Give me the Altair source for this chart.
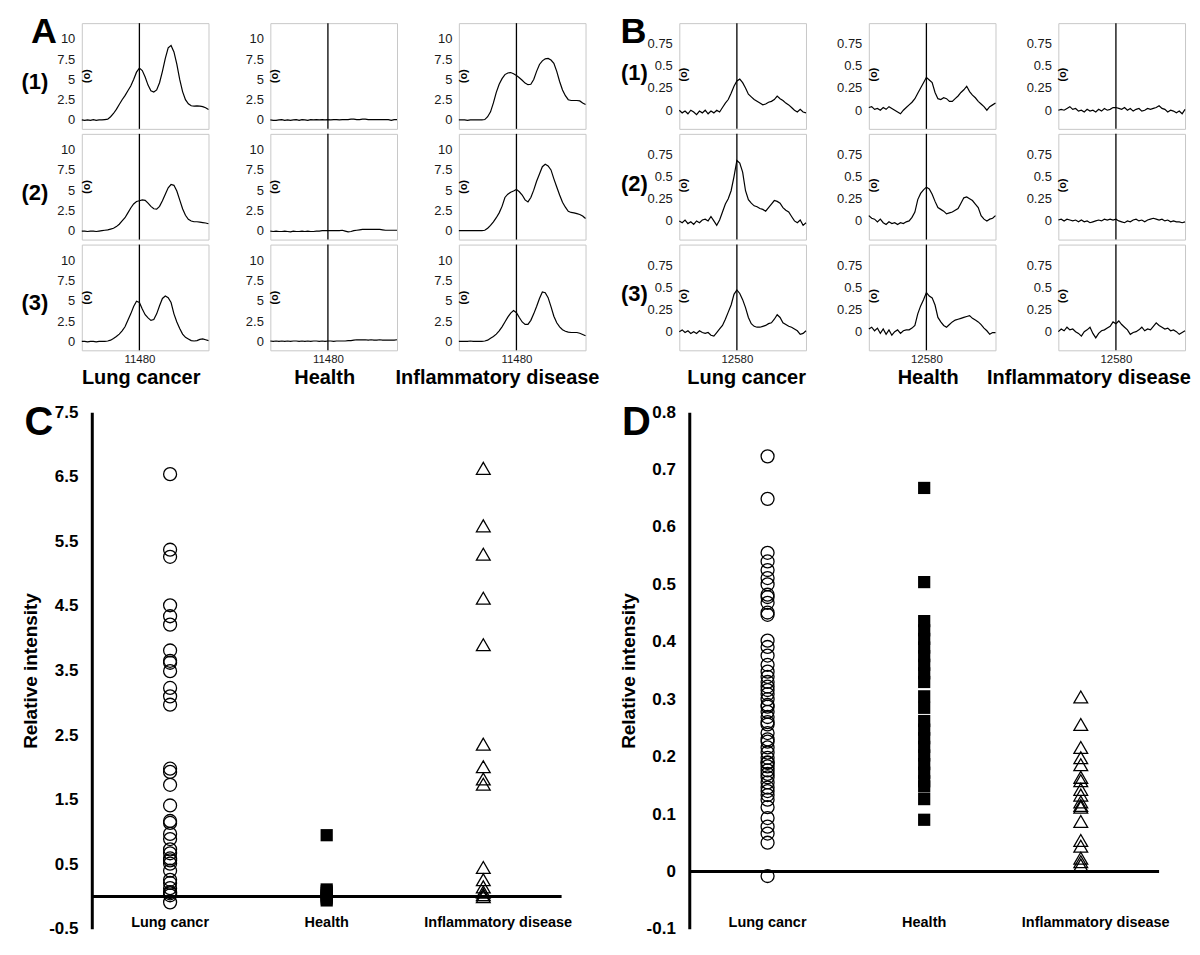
import altair as alt
import pandas as pd

FONT = "Liberation Sans"

# ---------------- Panel A / B spectra (m/z grid and relative intensities) ----------------
MASS_A = [11380, 11385, 11390, 11395, 11400, 11405, 11410, 11415, 11420, 11425,
          11430, 11435, 11440, 11445, 11450, 11455, 11460, 11465, 11470, 11475,
          11480, 11485, 11490, 11495, 11500, 11505, 11510, 11515, 11520, 11525,
          11530, 11535, 11540, 11545, 11550, 11555, 11560, 11565, 11570, 11575,
          11580, 11585, 11590, 11595, 11600]
MASS_B = [12480, 12485, 12490, 12495, 12500, 12505, 12510, 12515, 12520, 12525,
          12530, 12535, 12540, 12545, 12550, 12555, 12560, 12565, 12570, 12575,
          12580, 12585, 12590, 12595, 12600, 12605, 12610, 12615, 12620, 12625,
          12630, 12635, 12640, 12645, 12650, 12655, 12660, 12665, 12670, 12675,
          12680, 12685, 12690, 12695, 12700]

A_LUNG_1 = [0, -0.05, 0, -0.05, 0.05, -0.05, 0, 0, 0.05, 0.1,
            0.4, 0.8, 1.3, 1.9, 2.5, 3.0, 3.6, 4.2, 5.0, 5.9,
            6.4, 6.1, 5.3, 4.3, 3.6, 3.45, 3.7, 4.6, 6.0, 7.6,
            8.9, 9.2, 8.4, 6.9, 5.0, 3.5, 2.5, 2.0, 1.75, 1.7,
            1.75, 1.7, 1.65, 1.5, 1.3]
A_LUNG_2 = [-0.05, -0.05, -0.1, -0.05, -0.05, -0.1, -0.05, 0, 0.05, 0.1,
            0.2, 0.3, 0.5, 0.8, 1.2, 1.6, 2.2, 2.8, 3.3, 3.6,
            3.7, 3.8, 3.75, 3.4, 3.0, 2.7, 2.65, 3.0, 3.7, 4.5,
            5.3, 5.7, 5.6, 4.9, 3.8, 2.7, 1.9, 1.4, 1.2, 1.1,
            1.1, 1.05, 1.0, 0.95, 0.85]
A_LUNG_3 = [0, 0, -0.05, 0, 0, -0.05, 0, 0, 0, 0.05,
            0.15, 0.35, 0.6, 0.9, 1.3, 1.8, 2.6, 3.4, 4.3, 4.95,
            4.8, 4.0, 3.3, 2.9, 2.6, 2.7, 3.4, 4.4, 5.3, 5.6,
            5.4, 4.8, 3.4, 2.4, 1.6, 0.9, 0.5, 0.3, 0.1, 0.05,
            0.1, 0.25, 0.3, 0.2, 0.1]
A_HEALTH_1 = [0, -0.05, -0.05, 0, 0.05, -0.05, 0, -0.05, 0, 0.05,
              -0.05, 0.05, 0, -0.05, 0.05, 0, 0.05, 0, 0.05, 0,
              0.05, 0, 0.05, 0.05, 0, 0.05, 0.05, 0.05, 0.1, 0.1,
              0.05, 0.05, 0.1, 0.1, 0.05, 0.05, 0.05, 0.05, 0.05, 0.05,
              0.05, 0.05, -0.05, 0.05, 0.05]
A_HEALTH_2 = [-0.05, -0.1, -0.05, -0.1, -0.1, -0.05, -0.1, -0.15, -0.05, -0.1,
              -0.1, -0.05, -0.1, -0.05, -0.1, -0.1, -0.05, -0.05, 0, 0,
              0, 0, 0, 0, 0, 0.05, -0.05, -0.15, -0.1, 0,
              0.05, 0.1, 0.15, 0.15, 0.15, 0.15, 0.15, 0.15, 0.15, 0.1,
              0.05, 0.05, 0.05, 0.05, 0.05]
A_HEALTH_3 = [0.05, 0, 0.05, 0, 0.05, 0, 0.05, 0, 0.05, 0.05,
              0, 0.05, 0, 0.05, 0, 0.05, 0.05, 0, 0.05, 0,
              0.05, 0.05, 0, 0.05, 0.05, 0.05, 0.05, 0.1, 0.1, 0.15,
              0.2, 0.2, 0.2, 0.2, 0.15, 0.2, 0.15, 0.15, 0.2, 0.15,
              0.15, 0.15, 0.15, 0.15, 0.2]
A_INFL_1 = [0, 0, 0, -0.05, 0, 0, 0, 0, 0, 0.05,
            0.4, 1.0, 2.1, 3.4, 4.4, 5.1, 5.6, 5.8, 5.85, 5.7,
            5.5, 5.2, 4.9, 4.55, 4.35, 4.4, 5.0, 6.0, 6.85, 7.3,
            7.55, 7.6, 7.4, 7.0, 6.0, 4.75, 3.7, 3.0, 2.5, 2.4,
            2.4, 2.4, 2.35, 2.1, 1.9]
A_INFL_2 = [0, 0, 0, 0, 0, 0, 0, 0, 0, 0.05,
            0.3, 0.65, 1.1, 1.6, 2.2, 3.0, 4.1, 4.5, 4.75, 4.9,
            5.1, 4.8, 4.4, 3.8, 3.55, 4.1, 5.0, 6.1, 7.0, 7.9,
            8.2, 8.0, 7.5, 6.4, 5.4, 4.4, 3.5, 2.9, 2.4, 2.25,
            2.2, 2.1, 2.0, 1.8, 1.5]
A_INFL_3 = [0, 0, 0, 0, 0.05, 0, 0, 0, 0, 0.05,
            0.15, 0.4, 0.6, 0.9, 1.3, 1.8, 2.4, 3.0, 3.5, 3.8,
            3.55, 2.95, 2.4, 2.1, 2.1, 2.6, 3.4, 4.3, 5.3, 6.1,
            6.0, 5.4, 4.3, 3.1, 2.3, 1.8, 1.45, 1.25, 1.15, 1.1,
            1.1, 1.1, 1.0, 0.85, 0.7]

B_LUNG_1 = [0.0, -0.03, -0.01, -0.04, 0.0, -0.02, -0.05, -0.01, -0.03, 0.0,
            -0.04, -0.01, -0.03, 0.0, -0.02, 0.03, 0.08, 0.12, 0.19, 0.27,
            0.33, 0.35, 0.31, 0.25, 0.18, 0.15, 0.12, 0.1, 0.08, 0.06,
            0.07, 0.09, 0.1, 0.12, 0.16, 0.13, 0.11, 0.08, 0.06, 0.03,
            0.0, -0.02, 0.01, -0.02, -0.03]
B_LUNG_2 = [0.0, -0.02, 0.01, -0.03, -0.01, -0.04, 0.0, -0.02, 0.01, 0.02,
            0.0, 0.05, 0.0, -0.05, 0.01, 0.1, 0.19, 0.25, 0.34, 0.5,
            0.68, 0.65, 0.55, 0.34, 0.24, 0.2, 0.17, 0.16, 0.14, 0.13,
            0.11, 0.15, 0.19, 0.23, 0.22, 0.2, 0.15, 0.12, 0.1, 0.05,
            0.0, -0.02, 0.01, -0.05, -0.02]
B_LUNG_3 = [0.0, 0.02, -0.01, 0.01, -0.02, 0.0, -0.02, 0.01, -0.01, -0.02,
            -0.01, -0.04, -0.05, -0.01, 0.03, 0.07, 0.14, 0.22, 0.3, 0.42,
            0.47, 0.43, 0.36, 0.27, 0.16, 0.09, 0.06, 0.05, 0.05, 0.06,
            0.07, 0.09, 0.1, 0.14, 0.19, 0.16, 0.1, 0.08, 0.06, 0.05,
            0.03, 0.01, -0.03, -0.02, 0.01]
B_HEALTH_1 = [0.03, 0.04, 0.01, 0.02, 0.0, 0.03, 0.01, 0.04, 0.02, 0.0,
              -0.02, -0.04, 0.0, 0.03, 0.06, 0.09, 0.13, 0.19, 0.25, 0.31,
              0.37, 0.34, 0.31, 0.2, 0.13, 0.12, 0.14, 0.13, 0.1, 0.1,
              0.13, 0.16, 0.2, 0.23, 0.27, 0.21, 0.17, 0.14, 0.1, 0.07,
              0.04, 0.0, 0.04, 0.06, 0.08]
B_HEALTH_2 = [0.06, 0.03, 0.02, -0.01, 0.02, -0.02, -0.04, -0.01, -0.03, -0.02,
              -0.04, -0.02, -0.03, -0.01, 0.0, 0.04, 0.1, 0.24, 0.31, 0.35,
              0.38, 0.36, 0.3, 0.22, 0.15, 0.13, 0.11, 0.08, 0.09, 0.1,
              0.12, 0.14, 0.2, 0.26, 0.27, 0.25, 0.23, 0.19, 0.15, 0.06,
              0.02, 0.0, 0.02, 0.03, 0.06]
B_HEALTH_3 = [0.03, 0.05, 0.01, 0.04, -0.02, 0.03, -0.03, 0.02, -0.04, 0.0,
              0.02, -0.02, 0.01, 0.02, 0.02, 0.04, 0.07, 0.2, 0.29, 0.36,
              0.44, 0.4, 0.38, 0.3, 0.16, 0.11, 0.07, 0.05, 0.08, 0.11,
              0.13, 0.14, 0.15, 0.16, 0.17, 0.18, 0.15, 0.13, 0.11, 0.08,
              0.04, 0.01, -0.03, -0.01, -0.01]
B_INFL_1 = [0.0, 0.01, 0.0, 0.02, 0.04, 0.01, 0.02, -0.01, 0.0, -0.02,
            0.01, -0.01, 0.0, -0.02, 0.01, -0.01, 0.02, 0.0, 0.01, 0.03,
            0.03, 0.02, 0.01, 0.03, 0.0, 0.02, -0.01, 0.01, 0.02, -0.01,
            0.0, 0.02, 0.01, 0.02, 0.03, 0.05, 0.02, 0.01, -0.02, 0.0,
            -0.01, -0.03, -0.01, -0.04, 0.01]
B_INFL_2 = [0.01, 0.02, 0.0, 0.02, 0.01, 0.0, 0.01, -0.01, 0.01, -0.01,
            0.0, -0.02, -0.01, 0.0, 0.01, 0.0, 0.02, 0.01, 0.02, 0.01,
            0.02, 0.0, -0.01, -0.02, 0.0, -0.01, 0.01, 0.02, 0.0, 0.01,
            -0.01, 0.01, 0.02, 0.03, 0.02, 0.01, 0.02, 0.0, 0.01, -0.01,
            0.0, -0.01, -0.01, -0.02, -0.01]
B_INFL_3 = [0.0, 0.03, 0.01, 0.05, 0.02, 0.03, 0.0, -0.02, -0.05, 0.0,
            0.02, 0.05, -0.02, -0.07, -0.02, 0.01, 0.02, 0.04, 0.06, 0.11,
            0.09, 0.12, 0.08, 0.05, 0.02, -0.03, -0.01, 0.0, 0.02, 0.05,
            0.01, 0.03, 0.02, 0.06, 0.1, 0.07, 0.05, 0.03, 0.04, 0.01,
            0.02, 0.0, -0.03, -0.01, 0.01]

GROUPS_AB = ["Lung cancer", "Health", "Inflammatory disease"]
ROW_LABELS = ["(1)", "(2)", "(3)"]
A_TICKS = [0, 2.5, 5, 7.5, 10]
B_TICKS = [0, 0.25, 0.5, 0.75]

# ---------------- Panel C / D scatter values ----------------
CATS = ["Lung cancr", "Health", "Inflammatory disease"]
C_LUNG = [6.54, 5.37, 5.26, 4.51, 4.34, 4.21, 3.81, 3.65, 3.62, 3.49, 3.23, 3.10, 2.97,
          1.98, 1.93, 1.73, 1.41, 1.17, 1.14, 0.97, 0.89, 0.73, 0.67, 0.59, 0.56, 0.51,
          0.40, 0.26, 0.21, 0.13, 0.07, 0.05, 0.02, -0.09]
C_HEALTH = [0.95, 0.11, 0.08, 0.05, 0.02, 0.0, -0.03, -0.06]
C_INFL = [6.63, 5.74, 5.30, 4.62, 3.90, 2.36, 2.01, 1.82, 1.74, 0.45, 0.26, 0.15, 0.07, 0.03, 0.0]
C_TICKS = [-0.5, 0.5, 1.5, 2.5, 3.5, 4.5, 5.5, 6.5, 7.5]

D_LUNG = [0.723, 0.649, 0.555, 0.54, 0.525, 0.511, 0.50, 0.482, 0.478, 0.468, 0.451, 0.447,
          0.402, 0.391, 0.376, 0.36, 0.348, 0.339, 0.33, 0.322, 0.316, 0.309, 0.30, 0.29,
          0.287, 0.278, 0.269, 0.26, 0.256, 0.241, 0.23, 0.226, 0.216, 0.207, 0.198, 0.19,
          0.189, 0.183, 0.176, 0.17, 0.164, 0.155, 0.146, 0.14, 0.133, 0.125, 0.112, 0.093,
          0.078, 0.066, 0.05, -0.008]
D_HEALTH = [0.668, 0.504, 0.436, 0.42, 0.405, 0.39, 0.375, 0.36, 0.345, 0.33, 0.305, 0.285,
            0.262, 0.247, 0.232, 0.217, 0.202, 0.187, 0.172, 0.157, 0.148, 0.126, 0.09]
D_INFL = [0.304, 0.256, 0.216, 0.198, 0.186, 0.164, 0.158, 0.143, 0.133, 0.121, 0.115, 0.112,
          0.087, 0.054, 0.044, 0.023, 0.017, 0.011]
D_TICKS = [-0.1, 0, 0.1, 0.2, 0.3, 0.4, 0.5, 0.6, 0.7, 0.8]

PANEL_W, PANEL_H = 127, 106

CFG_A = dict(mass=MASS_A, xdom=[11380, 11600], ydom=[-1.1, 11.95], ticks=A_TICKS, line=11480,
             marker=5.4, letter="A", letter_x=-38, row_x=-47, row_y=59,
             title_x=[59, 54, -64], title_align=["center", "center", "left"],
             data=[[A_LUNG_1, A_LUNG_2, A_LUNG_3], [A_HEALTH_1, A_HEALTH_2, A_HEALTH_3],
                   [A_INFL_1, A_INFL_2, A_INFL_3]], spacing=62)
CFG_B = dict(mass=MASS_B, xdom=[12480, 12700], ydom=[-0.21, 0.98], ticks=B_TICKS, line=12580,
             marker=0.40, letter="B", letter_x=-46, row_x=-45, row_y=50,
             title_x=[67, 59, -72], title_align=["center", "center", "left"],
             data=[[B_LUNG_1, B_LUNG_2, B_LUNG_3], [B_HEALTH_1, B_HEALTH_2, B_HEALTH_3],
                   [B_INFL_1, B_INFL_2, B_INFL_3]], spacing=63)


def spectrum_panel(cfg, row, col):
    if row == 2:
        x_axis = alt.Axis(values=[cfg["line"]], labelExpr="toString(datum.value)", ticks=False,
                          tickSize=0, domain=False, grid=False, labelFont=FONT, labelFontSize=11.5,
                          labelColor="#1a1a1a", labelPadding=3, title=GROUPS_AB[col],
                          titleFont=FONT, titleFontSize=20, titleFontWeight="bold",
                          titleColor="black", titlePadding=3, titleX=cfg["title_x"][col],
                          titleAlign=cfg["title_align"][col])
    else:
        x_axis = None
    x_enc = alt.X("mass:Q", scale=alt.Scale(domain=cfg["xdom"], nice=False, zero=False), axis=x_axis)
    y_enc = alt.Y("value:Q", scale=alt.Scale(domain=cfg["ydom"], nice=False, zero=False),
                  axis=alt.Axis(values=cfg["ticks"], labelExpr="toString(datum.value)", ticks=False,
                                tickSize=0, domain=False, grid=False, labelFont=FONT,
                                labelFontSize=13, labelColor="#1a1a1a", labelPadding=7, title=None))
    df = pd.DataFrame({"mass": cfg["mass"], "value": cfg["data"][col][row]})
    line = alt.Chart(df).mark_line(color="black", strokeWidth=1.2).encode(x=x_enc, y=y_enc)
    rule = alt.Chart(pd.DataFrame({"mass": [cfg["line"]]})).mark_rule(
        color="black", strokeWidth=1.3).encode(x=x_enc)
    marker = alt.Chart(pd.DataFrame({"value": [cfg["marker"]]})).mark_text(
        text="(o)", angle=90, font=FONT, fontSize=11, fontWeight="bold", color="black"
    ).encode(x=alt.value(5), y=y_enc)
    layers = [line, rule, marker]
    if col == 0:
        layers.append(alt.Chart(pd.DataFrame({"t": [ROW_LABELS[row]]})).mark_text(
            font=FONT, fontSize=22, fontWeight="bold", color="black", align="center",
            baseline="middle").encode(text="t:N", x=alt.value(cfg["row_x"]), y=alt.value(cfg["row_y"])))
        if row == 0:
            layers.append(alt.Chart(pd.DataFrame({"t": [cfg["letter"]]})).mark_text(
                font=FONT, fontSize=36, fontWeight="bold", color="black", align="center",
                baseline="alphabetic").encode(text="t:N", x=alt.value(cfg["letter_x"]), y=alt.value(20)))
    return alt.layer(*layers).properties(width=PANEL_W, height=PANEL_H)


def spectrum_block(cfg):
    rows = []
    for r in range(3):
        rows.append(alt.hconcat(*[spectrum_panel(cfg, r, c) for c in range(3)],
                                spacing=cfg["spacing"], bounds="flush"))
    return alt.vconcat(*rows, spacing=1)


def scatter_panel(lung, health, infl, ydom, ticks, letter):
    x_enc = alt.X("group:N", scale=alt.Scale(type="point", domain=CATS, padding=0.5), axis=None, sort=None)
    y_enc = alt.Y("value:Q", scale=alt.Scale(domain=ydom, nice=False, zero=False),
                  axis=alt.Axis(values=ticks, labelExpr="toString(datum.value)", ticks=False, tickSize=0,
                                domain=True, domainColor="black", domainWidth=3, grid=False,
                                labelFont=FONT, labelFontSize=17, labelFontWeight="bold",
                                labelColor="black", labelPadding=14, title="Relative intensity",
                                titleFont=FONT, titleFontSize=19, titleFontWeight="bold",
                                titleColor="black", titlePadding=8))
    zero = alt.Chart(pd.DataFrame({"value": [0]})).mark_rule(color="black", strokeWidth=3).encode(y=y_enc)
    circ = alt.Chart(pd.DataFrame({"group": CATS[0], "value": lung})).mark_point(
        shape="circle", filled=False, color="black", size=169, strokeWidth=1.3, opacity=1
    ).encode(x=x_enc, y=y_enc)
    sq = alt.Chart(pd.DataFrame({"group": CATS[1], "value": health})).mark_point(
        shape="square", filled=True, color="black", size=150, opacity=1
    ).encode(x=x_enc, y=y_enc)
    tri = alt.Chart(pd.DataFrame({"group": CATS[2], "value": infl})).mark_point(
        shape="triangle-up", filled=False, color="black", size=190, strokeWidth=1.3, opacity=1
    ).encode(x=x_enc, y=y_enc)
    lab1 = alt.Chart(pd.DataFrame({"group": CATS[:2]})).mark_text(
        font=FONT, fontSize=14.5, fontWeight="bold", color="black", baseline="middle"
    ).encode(x=x_enc, y=alt.value(512), text="group:N")
    lab2 = alt.Chart(pd.DataFrame({"group": CATS[2:]})).mark_text(
        font=FONT, fontSize=14.5, fontWeight="bold", color="black", baseline="middle", dx=15
    ).encode(x=x_enc, y=alt.value(512), text="group:N")
    let = alt.Chart(pd.DataFrame({"t": [letter]})).mark_text(
        font=FONT, fontSize=40, fontWeight="bold", color="black", align="center", baseline="alphabetic"
    ).encode(text="t:N", x=alt.value(-53), y=alt.value(23))
    return alt.layer(zero, circ, sq, tri, lab1, lab2, let).properties(
        width=471, height=518, view=alt.ViewBackground(stroke="transparent"))


def spacer():
    return alt.Chart(pd.DataFrame({"a": [0]})).mark_point(opacity=0, size=0).encode(
        x=alt.value(0), y=alt.value(0)).properties(width=1, height=1,
                                                   view=alt.ViewBackground(stroke="transparent"))


top = alt.hconcat(spectrum_block(CFG_A), spectrum_block(CFG_B), spacing=19)
bottom = alt.hconcat(scatter_panel(C_LUNG, C_HEALTH, C_INFL, [-0.5, 7.5], C_TICKS, "C"),
                     scatter_panel(D_LUNG, D_HEALTH, D_INFL, [-0.1, 0.8], D_TICKS, "D"),
                     spacing=45)

chart = alt.vconcat(alt.hconcat(spacer(), top, spacing=0),
                    alt.hconcat(spacer(), bottom, spacing=0),
                    spacing=14).properties(
    padding={"left": 10, "top": 4, "right": 0, "bottom": 0}
).configure(font=FONT).configure_view(stroke="#c8c8c8", strokeWidth=1)

chart.save("out.html", embed_options={"renderer": "svg", "actions": False})
